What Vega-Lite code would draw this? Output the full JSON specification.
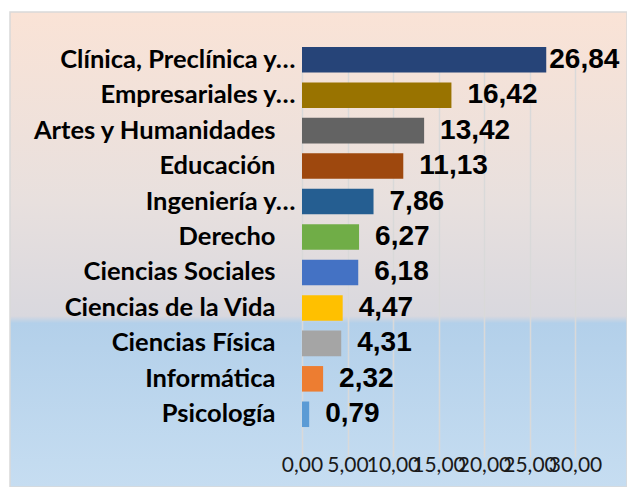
{
  "$schema": "https://vega.github.io/schema/vega-lite/v6.json",
  "width": 617,
  "height": 475,
  "autosize": {"type": "none"},
  "padding": {"left": 10, "top": 12, "right": 0, "bottom": 0},
  "background": "white",
  "config": {
    "locale": {"number": {"decimal": ",", "thousands": ".", "grouping": [3], "currency": ["", " €"]}},
    "view": {
      "stroke": "#d9d9d9",
      "strokeWidth": 1.5,
      "fill": {
        "gradient": "linear", "x1": 0, "y1": 0, "x2": 0, "y2": 1,
        "stops": [
          {"offset": 0, "color": "#fae3d6"},
          {"offset": 0.4, "color": "#e8e0de"},
          {"offset": 0.64, "color": "#d9d8de"},
          {"offset": 0.655, "color": "#b3d0ea"},
          {"offset": 1, "color": "#c6ddf1"}
        ]
      }
    }
  },
  "data": {
    "values": [
      {"area": "Clínica, Preclínica y…", "value": 26.84},
      {"area": "Empresariales y…", "value": 16.42},
      {"area": "Artes y Humanidades", "value": 13.42},
      {"area": "Educación", "value": 11.13},
      {"area": "Ingeniería y…", "value": 7.86},
      {"area": "Derecho", "value": 6.27},
      {"area": "Ciencias Sociales", "value": 6.18},
      {"area": "Ciencias de la Vida", "value": 4.47},
      {"area": "Ciencias Física", "value": 4.31},
      {"area": "Informática", "value": 2.32},
      {"area": "Psicología", "value": 0.79}
    ]
  },
  "encoding": {
    "y": {
      "field": "area", "type": "nominal", "sort": null,
      "scale": {"range": [30, 420], "paddingInner": 0.28, "paddingOuter": 0.14},
      "axis": {
        "title": null, "offset": -292, "domain": false, "ticks": false,
        "labelPadding": {"condition": {"test": "indexof(datum.label, '…') >= 0", "value": 7}, "value": 27},
        "labelFont": "Lato", "labelFontWeight": "bold",
        "labelFontSize": 25.5, "labelColor": "#000000", "labelLimit": 400
      }
    },
    "x": {
      "field": "value", "type": "quantitative",
      "scale": {"domain": [0, 30], "range": [292, 565], "nice": false},
      "axis": {
        "title": null, "orient": "bottom", "offset": -35, "values": [0, 5, 10, 15, 20, 25, 30],
        "format": ",.2f", "domain": false, "ticks": false, "grid": true,
        "gridColor": "#d9d9d9", "gridWidth": 1.5, "labelPadding": 2,
        "labelFont": "Lato", "labelFontSize": 21, "labelColor": "#1a1a1a",
        "labelOverlap": false, "labelFlush": false
      }
    }
  },
  "layer": [
    {
      "mark": {"type": "bar"},
      "encoding": {
        "color": {
          "field": "area", "type": "nominal", "legend": null,
          "scale": {
            "range": ["#264478", "#997300", "#636363", "#9e480e", "#255e91", "#70ad47", "#4472c4", "#ffc000", "#a5a5a5", "#ed7d31", "#5b9bd5"]
          },
          "sort": null
        }
      }
    },
    {
      "mark": {
        "type": "text", "align": "left", "baseline": "middle",
        "dx": {"expr": "datum.value > 25 ? 3 : 16"},
        "font": "Liberation Sans", "fontWeight": "bold", "fontSize": 28, "color": "#000000"
      },
      "encoding": {
        "text": {"field": "value", "type": "quantitative", "format": ",.2f"}
      }
    }
  ]
}
